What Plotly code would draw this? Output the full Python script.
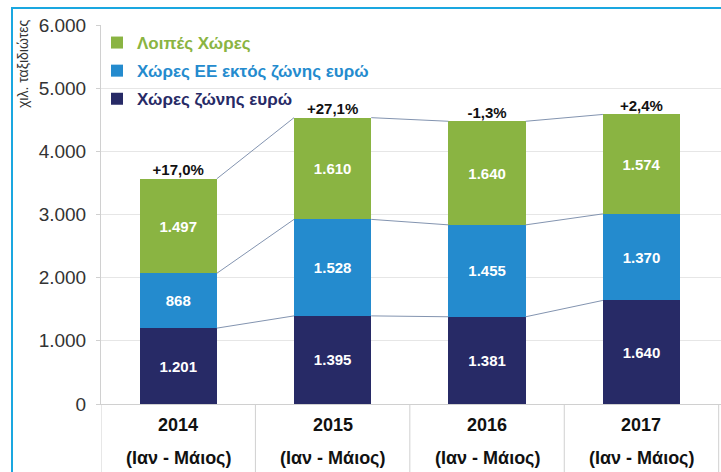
import plotly.graph_objects as go

years = ["2014", "2015", "2016", "2017"]
period = "(Ιαν - Μάιος)"
euro_zone = [1201, 1395, 1381, 1640]
eu_non_euro = [868, 1528, 1455, 1370]
other = [1497, 1610, 1640, 1574]
growth = ["+17,0%", "+27,1%", "-1,3%", "+2,4%"]
y_ticks = [0, 1000, 2000, 3000, 4000, 5000, 6000]

C_NAVY = "#272a66"
C_BLUE = "#248bce"
C_GREEN = "#8ab442"
FONT = "Liberation Sans, Arial, sans-serif"
NARROW = "Liberation Sans Narrow, Arial Narrow, Liberation Sans, sans-serif"

xs = list(range(len(years)))
series = [
    ("Χώρες ζώνης ευρώ", euro_zone, C_NAVY, 3),
    ("Χώρες ΕΕ εκτός ζώνης ευρώ", eu_non_euro, C_BLUE, 2),
    ("Λοιπές Χώρες", other, C_GREEN, 1),
]

fig = go.Figure()
W = 0.5
for name, vals, col, rank in series:
    fig.add_trace(go.Bar(
        x=xs, y=vals, width=W,
        name=f"<b><span style='color:{col}'>{name}</span></b>",
        legendgroup=name, legendrank=rank,
        marker=dict(color=col, line=dict(width=0)),
        texttemplate="<b>%{y:,.0f}</b>", textposition="inside",
        insidetextanchor="middle",
        textfont=dict(color="white", size=15, family=FONT),
        hoverinfo="skip",
    ))

# connector lines between bar segment tops
cum = []
run = [0] * len(xs)
for _, vals, _, _ in series:
    run = [a + b for a, b in zip(run, vals)]
    cum.append(run[:])
lx, ly = [], []
for level in cum:
    for i in range(len(xs) - 1):
        lx += [xs[i] + W / 2, xs[i + 1] - W / 2, None]
        ly += [level[i], level[i + 1], None]
fig.add_trace(go.Scatter(x=lx, y=ly, mode="lines",
                         line=dict(color="#8394b0", width=1),
                         showlegend=False, hoverinfo="skip"))

totals = cum[-1]
fig.add_trace(go.Scatter(
    x=xs, y=totals, mode="text",
    text=[f"<b>{g}</b>" for g in growth],
    textposition="top center",
    textfont=dict(size=15, color="#111111", family=FONT),
    showlegend=False, hoverinfo="skip"))

L, R, T, B = 101, 0, 25, 68
PW = 721 - L - R
PH = 472 - T - B

def px_x(p):
    return (p - L) / PW

def px_y(p):
    return (472 - B - p) / PH

shapes = []
for k in range(len(xs) + 1):
    shapes.append(dict(type="line", xref="x", yref="paper",
                       x0=k - 0.5, x1=k - 0.5, y0=0, y1=px_y(472),
                       line=dict(color="#d0d0d0", width=1)))
# frame border: left and top edges
shapes.append(dict(type="line", xref="paper", yref="paper",
                   x0=px_x(12), x1=px_x(12), y0=px_y(8), y1=px_y(475),
                   line=dict(color="#1aa7e0", width=2), layer="above"))
shapes.append(dict(type="line", xref="paper", yref="paper",
                   x0=px_x(11), x1=px_x(725), y0=px_y(8), y1=px_y(8),
                   line=dict(color="#1aa7e0", width=2), layer="above"))

annotations = [dict(
    text="χιλ. ταξιδιώτες", textangle=-90, xref="paper", yref="paper",
    x=px_x(23), y=px_y(18), xanchor="center", yanchor="top",
    showarrow=False, font=dict(size=14, color="#333333", family=FONT))]
for i, yr in enumerate(years):
    annotations.append(dict(text=f"<b>{yr}</b>", xref="x", yref="paper",
                            x=xs[i], y=px_y(425), xanchor="center", yanchor="middle",
                            showarrow=False,
                            font=dict(size=18, color="#111111", family=NARROW)))
    annotations.append(dict(text=f"<b>{period}</b>", xref="x", yref="paper",
                            x=xs[i], y=px_y(458), xanchor="center", yanchor="middle",
                            showarrow=False,
                            font=dict(size=18, color="#111111", family=NARROW)))

fig.update_layout(
    width=721, height=472,
    margin=dict(l=L, r=R, t=T, b=B),
    paper_bgcolor="white", plot_bgcolor="white",
    barmode="stack", separators=",.",
    showlegend=True,
    legend=dict(x=px_x(97), y=px_y(25), xanchor="left", yanchor="top",
                traceorder="grouped", tracegroupgap=3,
                bgcolor="rgba(0,0,0,0)",
                font=dict(size=17, family=FONT, weight="bold"), itemclick=False),
    xaxis=dict(range=[-0.5, 3.515], tickvals=xs, showticklabels=False,
               showgrid=False, zeroline=False, showline=True,
               linecolor="#d0d0d0", ticks=""),
    yaxis=dict(range=[0, 6000], tickvals=y_ticks, tickformat=",.0f",
               tickfont=dict(size=19, color="#333333", family=FONT),
               showgrid=True, gridcolor="#e6e6e6", zeroline=False,
               showline=True, linecolor="#d0d0d0", ticks="outside",
               ticklen=4, tickcolor="#d0d0d0", ticklabelstandoff=6),
    shapes=shapes, annotations=annotations,
)

fig.write_html("out.html", config={"displayModeBar": False},
               post_script="document.body.style.margin='0px';document.body.style.overflow='hidden';")
